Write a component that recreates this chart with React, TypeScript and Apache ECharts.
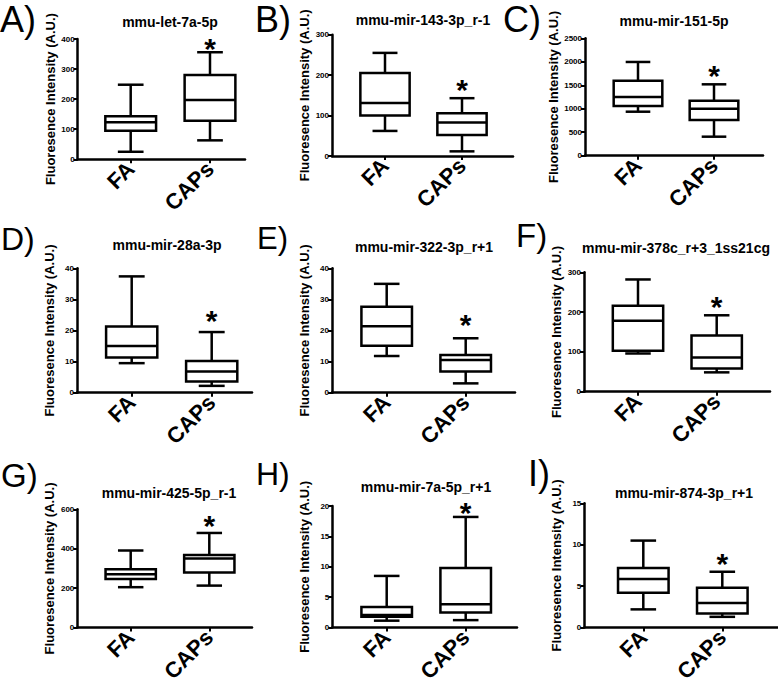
import React, { useEffect, useRef } from "react";
import * as echarts from "echarts";

const panelLetters = ["A)", "B)", "C)", "D)", "E)", "F)", "G)", "H)", "I)"];
const panelTitles = [
  "mmu-let-7a-5p",
  "mmu-mir-143-3p_r-1",
  "mmu-mir-151-5p",
  "mmu-mir-28a-3p",
  "mmu-mir-322-3p_r+1",
  "mmu-mir-378c_r+3_1ss21cg",
  "mmu-mir-425-5p_r-1",
  "mmu-mir-7a-5p_r+1",
  "mmu-mir-874-3p_r+1",
];
const categories = ["FA", "CAPs"];
const yAxisName = "Fluoresence Intensity (A.U.)";
// [min, Q1, median, Q3, max]
const faStats = [
  [25, 95, 123, 143, 248],
  [62, 100, 131, 205, 255],
  [937, 1058, 1250, 1598, 1996],
  [9.5, 11.3, 15, 21.3, 37.4],
  [11.8, 15.1, 21.4, 27.6, 35],
  [96, 103, 178, 216, 282],
  [205, 246, 271, 296, 391],
  [1.14, 1.78, 2.08, 3.4, 8.5],
  [2.2, 4.2, 5.87, 7.2, 10.5],
];
const capsStats = [
  [63, 128, 197, 280, 356],
  [11.5, 52, 83, 106, 143],
  [405, 760, 1000, 1172, 1520],
  [2.2, 3.6, 6.8, 10.2, 19.5],
  [3, 6.8, 10.5, 12.1, 17.5],
  [48.6, 58, 86, 141, 192],
  [213, 280, 350, 368, 480],
  [1.23, 2.48, 3.83, 9.8, 18.2],
  [1.3, 1.7, 2.98, 4.8, 6.74],
];
const yMax = [400, 300, 2500, 40, 40, 300, 600, 20, 15];
const yStep = [100, 100, 500, 10, 10, 100, 200, 5, 5];
const starValues = [387, 180, 1825, 25, 24, 230, 546, 20.0, 8.5];
const starMark = "*";

// pixel layout of each panel (positions only)
const layout = [
  { x0: 77.7, xEnd: 245, yTop: 39, yBot: 159.3, faX: 130.7, capsX: 210, lx: 0, ly: 19.5, ls: 36, tx: 170, ty: 22 },
  { x0: 332, xEnd: 513, yTop: 34.7, yBot: 156, faX: 385, capsX: 462, lx: 255, ly: 19.5, ls: 36, tx: 423, ty: 20 },
  { x0: 585, xEnd: 763, yTop: 38.3, yBot: 155.7, faX: 638, capsX: 714, lx: 503, ly: 19, ls: 36, tx: 674, ty: 21 },
  { x0: 77, xEnd: 252, yTop: 268.3, yBot: 392.7, faX: 131.7, capsX: 211.7, lx: 1, ly: 239, ls: 32, tx: 167, ty: 245 },
  { x0: 332, xEnd: 515, yTop: 268.3, yBot: 392.7, faX: 386.7, capsX: 465.7, lx: 257, ly: 238, ls: 31, tx: 424, ty: 247 },
  { x0: 584, xEnd: 770, yTop: 272.3, yBot: 391.7, faX: 638, capsX: 716.7, lx: 516, ly: 235, ls: 33, tx: 676, ty: 248 },
  { x0: 77.3, xEnd: 252, yTop: 509.3, yBot: 629.3, faX: 130.7, capsX: 209.3, lx: 1, ly: 475, ls: 33, tx: 169, ty: 493 },
  { x0: 332.3, xEnd: 517, yTop: 506, yBot: 629.3, faX: 386.7, capsX: 465.7, lx: 256, ly: 474, ls: 32, tx: 426, ty: 487 },
  { x0: 584.3, xEnd: 778, yTop: 503.3, yBot: 629.3, faX: 643.3, capsX: 722.3, lx: 528, ly: 473, ls: 36, tx: 684, ty: 493 },
];

const FONT = "'Liberation Sans', Arial, Helvetica, sans-serif";

function buildOption() {
  const grid: any[] = [];
  const xAxis: any[] = [];
  const yAxis: any[] = [];
  const series: any[] = [];
  const graphic: any[] = [];

  layout.forEach((L, i) => {
    const sp = L.capsX - L.faX;
    grid.push({
      left: L.x0,
      top: L.yTop,
      width: L.xEnd - L.x0,
      height: L.yBot - L.yTop,
      containLabel: false,
    });
    xAxis.push({
      type: "value",
      gridIndex: i,
      min: 1 - (L.faX - L.x0) / sp,
      max: 2 + (L.xEnd - L.capsX) / sp,
      axisLine: { show: true, onZero: false, lineStyle: { color: "#000", width: 2.5 } },
      axisTick: { show: true, customValues: [1, 2], length: 4, lineStyle: { color: "#000", width: 2 } },
      axisLabel: {
        show: true,
        customValues: [1, 2],
        formatter: (v: number) => categories[Math.round(v) - 1] ?? "",
        rotate: 45,
        fontSize: 22,
        fontWeight: "bold",
        fontFamily: FONT,
        color: "#000",
        margin: 6,
      },
      splitLine: { show: false },
    });
    yAxis.push({
      type: "value",
      gridIndex: i,
      min: 0,
      max: yMax[i],
      interval: yStep[i],
      axisLine: { show: true, lineStyle: { color: "#000", width: 2.5 } },
      axisTick: { show: true, length: 4, lineStyle: { color: "#000", width: 2 } },
      axisLabel: {
        fontSize: 8,
        fontWeight: "bold",
        color: "#000",
        margin: 3,
        fontFamily: FONT,
        formatter: (v: number) => String(v),
      },
      splitLine: { show: false },
      name: yAxisName,
      nameLocation: "middle",
      nameGap: 21,
      nameTextStyle: { fontSize: 13, fontWeight: "bold", color: "#000", fontFamily: FONT },
    });
    series.push({
      type: "custom",
      xAxisIndex: i,
      yAxisIndex: i,
      data: [
        [1, ...faStats[i]],
        [2, ...capsStats[i]],
      ],
      encode: { x: 0, y: [1, 2, 3, 4, 5] },
      renderItem: (params: any, api: any) => {
        const x = api.value(0);
        const ys = [1, 2, 3, 4, 5].map((k) => api.coord([x, api.value(k)])[1]);
        const cx = api.coord([x, 0])[0];
        const unit = api.size([1, 0])[0];
        const hw = unit * 0.32;
        const cw = unit * 0.162;
        const [pMin, pQ1, pMed, pQ3, pMax] = ys;
        const st = { stroke: "#000", lineWidth: 2.5, fill: null };
        return {
          type: "group",
          children: [
            { type: "line", shape: { x1: cx, y1: pMax, x2: cx, y2: pQ3 }, style: st },
            { type: "line", shape: { x1: cx, y1: pQ1, x2: cx, y2: pMin }, style: st },
            { type: "line", shape: { x1: cx - cw, y1: pMax, x2: cx + cw, y2: pMax }, style: st },
            { type: "line", shape: { x1: cx - cw, y1: pMin, x2: cx + cw, y2: pMin }, style: st },
            { type: "rect", shape: { x: cx - hw, y: pQ3, width: 2 * hw, height: pQ1 - pQ3 }, style: { ...st, fill: "#fff" } },
            { type: "line", shape: { x1: cx - hw, y1: pMed, x2: cx + hw, y2: pMed }, style: st },
          ],
        };
      },
    });
    series.push({
      type: "custom",
      xAxisIndex: i,
      yAxisIndex: i,
      data: [[2, starValues[i]]],
      encode: { x: 0, y: 1 },
      renderItem: (params: any, api: any) => {
        const p = api.coord([api.value(0), api.value(1)]);
        return {
          type: "text",
          x: p[0],
          y: p[1] + 6,
          style: {
            text: starMark,
            fontSize: 30,
            fontWeight: "bold",
            fontFamily: FONT,
            fill: "#000",
            align: "center",
            verticalAlign: "middle",
          },
        };
      },
    });
    graphic.push({
      type: "text",
      x: L.lx,
      y: L.ly,
      style: {
        text: panelLetters[i],
        fontSize: L.ls,
        fontFamily: FONT,
        fill: "#000",
        align: "left",
        verticalAlign: "middle",
      },
    });
    graphic.push({
      type: "text",
      x: L.tx,
      y: L.ty,
      style: {
        text: panelTitles[i],
        fontSize: 14,
        fontWeight: "bold",
        fontFamily: FONT,
        fill: "#000",
        align: "center",
        verticalAlign: "middle",
      },
    });
  });

  return {
    animation: false,
    backgroundColor: "#fff",
    grid,
    xAxis,
    yAxis,
    series,
    graphic,
  };
}

export default function App() {
  const ref = useRef<HTMLDivElement>(null);
  useEffect(() => {
    if (!ref.current) return;
    const chart = echarts.init(ref.current, undefined, { renderer: "svg" });
    chart.setOption(buildOption() as any);
    return () => chart.dispose();
  }, []);
  return (
    <div
      ref={ref}
      style={{ position: "absolute", left: 0, top: 0, width: 778, height: 685, background: "#fff" }}
    />
  );
}
